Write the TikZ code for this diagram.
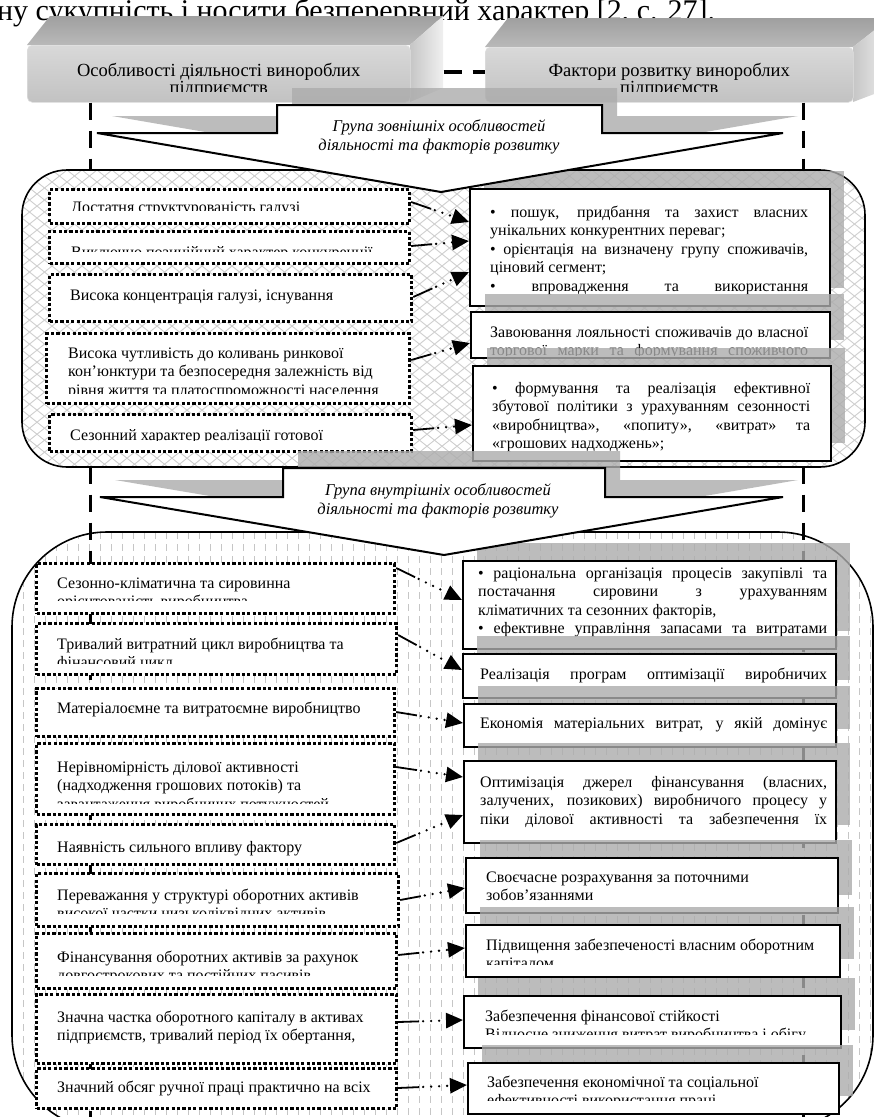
\documentclass[tikz,border=0pt]{standalone}
\usepackage{fontspec}
\setmainfont{Liberation Serif}
\usetikzlibrary{calc,arrows.meta}
\newcommand{\bfnt}{\fontsize{16}{18.5}\selectfont}
\newcommand{\hfnt}{\fontsize{18.5}{17.5}\selectfont}
\newcommand{\lineJ}[1]{\makebox[\linewidth][s]{#1}\par}
\newcommand{\lineL}[1]{\mbox{#1}\par}
\newcommand{\mkbox}[6]{\node[#2, minimum width={#5-#3}, minimum height={#6-#4}] (#1) at (#3,#4) {};}
\newcommand{\btext}[9]{\begin{scope}\clip (#2,#3) rectangle (#4,#5);
  \node[txt] (#1) at (#6,#7) {\parbox[t]{#8pt}{\setlength\parindent{0pt}\setlength\parskip{0pt}\bfnt #9}};\end{scope}}
\newcommand{\shad}[4]{\fill[shadowfill] (#1+15,#2-17) rectangle (#3+15,#4-17);}
\newcommand{\conn}[4]{%
  \path ($(#1.north east)+(0,#2)$) coordinate (cs) ($(#3.north west)+(0,#4)$) coordinate (ce);
  \draw[connsolid] (cs) -- ($(cs)!21pt!(ce)$);
  \draw[conndot] ($(cs)!21pt!(ce)$) -- (ce);}
\tikzset{
  txt/.style={inner sep=0pt, anchor=base west},
  lbox/.style={draw, line width=3.2pt, dash pattern=on 3.2pt off 2.2pt, fill=white, inner sep=0pt, anchor=north west},
  rbox/.style={draw, line width=1.6pt, fill=white, inner sep=0pt, anchor=north west},
  hfront/.style={rounded corners=5pt, top color=gray!30, bottom color=gray!48, draw=gray!25, line width=0.6pt, inner sep=0pt, anchor=north west},
  shadowfill/.style={fill=gray!65, opacity=0.8},
  connsolid/.style={line width=1.8pt},
  conndot/.style={line width=2.6pt, line cap=round, dash pattern=on 0pt off 8pt, dash phase=4pt, -{Triangle[length=17pt,width=15pt]}},
  vdash/.style={line width=3pt, dash pattern=on 17pt off 11pt},
  hdash/.style={line width=3.5pt, dash pattern=on 18pt off 11pt},
  hatch/.style={gray!38, line width=0.9pt},
  vhatch/.style={gray!45, line width=1pt, dash pattern=on 7pt off 5pt},
  arrowshape/.style={draw, line width=2pt, fill=white, line join=miter},
  atext/.style={inner sep=0pt, font=\fontsize{16.5}{19}\selectfont\itshape, align=center},
}
\begin{document}
\begin{tikzpicture}[x=1pt,y=-1pt]
\useasboundingbox (0,0) rectangle (874,1117);
\fill[white] (0,0) rectangle (874,1117);

% heading line of the page
\node[txt, font=\fontsize{30}{36}\selectfont] (head) at (-3,20) {ну сукупність і носити безперервний характер [2, с. 27].};

% ---- 3D header boxes
\shade[top color=gray!75, bottom color=gray!55] (27,45) -- (50,16) -- (443,16) -- (410,45) -- cycle;
\shade[left color=gray!45, right color=gray!12] (410,45) -- (443,16) -- (443,88) -- (410,102) -- cycle;
\node[hfront, minimum width=383, minimum height=57] (H1) at (27,45) {};
\begin{scope}\clip (27,45) rectangle (410,91);
\node[txt] (H1t) at (27,76) {\parbox[t]{383pt}{\centering\hfnt Особливості діяльності винороблих\\підприємств}};
\end{scope}

\shade[top color=gray!75, bottom color=gray!55] (485,47) -- (508,18) -- (890,18) -- (853,47) -- cycle;
\shade[left color=gray!45, right color=gray!12] (853,47) -- (890,18) -- (890,88) -- (853,102) -- cycle;
\node[hfront, minimum width=368, minimum height=55] (H2) at (485,47) {};
\begin{scope}\clip (485,47) rectangle (853,91);
\node[txt] (H2t) at (485,76) {\parbox[t]{368pt}{\centering\hfnt Фактори розвитку винороблих\\підприємств}};
\end{scope}

\draw[hdash] ($(H1.north east)+(33,27)$) -- ($(H2.north west)+(0,25)$);

% shadow of arrow 1
\fill[shadowfill, shift={(15,-17)}] (277,105) -- (602,105) -- (602,133) -- (783,133) -- (441,192) -- (97,133) -- (277,133) -- cycle;

% ---- lower rounded region background
\fill[white, rounded corners=95pt] (12,532) rectangle (873,1130);
\begin{scope}
\clip[rounded corners=95pt] (12,532) rectangle (873,1130);
\foreach \k in {0,...,78} {\draw[vhatch] (12+11*\k,532) -- (12+11*\k,1130);}
\end{scope}
\draw[line width=1.6pt, rounded corners=95pt] (12,532) rectangle (873,1130);

% vertical dashed guide lines
\coordinate (lend) at (90,1117);
\coordinate (rend) at (803,1117);
\draw[vdash] ($(H1.south west)+(63,0)$) -- (lend);
\draw[vdash] ($(H2.south west)+(318,0)$) -- (rend);

% ---- upper rounded region
\fill[white, rounded corners=45pt] (22,170) rectangle (865,467);
\begin{scope}
\clip[rounded corners=45pt] (22,170) rectangle (865,467);
\foreach \k in {-25,...,82} {\draw[hatch] (22+15*\k,170) -- ++(371,297); \draw[hatch] (22+15*\k,170) -- ++(-371,297);}
\end{scope}
\draw[line width=1.6pt, rounded corners=45pt] (22,170) rectangle (865,467);

% left items (upper)
\mkbox{L1}{lbox}{48}{188}{408}{222}
\btext{L1t}{48}{188}{408}{210}{71}{212}{335}{\lineL{Достатня структурованість галузі}}
\mkbox{L2}{lbox}{48}{230}{408}{262}
\btext{L2t}{48}{230}{408}{251}{71}{257}{335}{\lineL{Виключно позиційний характер конкуренції}}
\mkbox{L3}{lbox}{48}{273}{410}{320}
\btext{L3t}{48}{273}{410}{312}{70}{300}{335}{\lineL{Висока концентрація галузі, існування}}
\mkbox{L4}{lbox}{45}{332}{408}{402}
\btext{L4t}{45}{332}{408}{393}{68}{358}{335}{\lineL{Висока чутливість до коливань ринкової}\lineL{кон’юнктури та безпосередня залежність від}\lineL{рівня життя та платоспроможності населення}}
\mkbox{L5}{lbox}{48}{413}{410}{450}
\btext{L5t}{48}{413}{410}{440}{70}{440}{335}{\lineL{Сезонний характер реалізації готової}}

% right items (upper)
\shad{469}{188}{829}{305}
\mkbox{R1}{rbox}{469}{188}{829}{305}
\btext{R1t}{469}{188}{829}{305}{490}{217}{318}{\lineJ{• пошук, придбання та захист власних}\lineL{унікальних конкурентних переваг;}\lineJ{• орієнтація на визначену групу споживачів,}\lineL{ціновий сегмент;}\lineJ{• впровадження та використання}}
\shad{470}{311}{829}{357}
\mkbox{R2}{rbox}{470}{311}{829}{357}
\btext{R2t}{470}{311}{829}{355}{490}{337}{318}{\lineJ{Завоювання лояльності споживачів до власної}\lineJ{торгової марки та формування споживчого}}
\shad{472}{365}{830}{460}
\mkbox{R3}{rbox}{472}{365}{830}{460}
\btext{R3t}{472}{365}{830}{460}{492}{393}{318}{\lineJ{• формування та реалізація ефективної}\lineJ{збутової політики з урахуванням сезонності}\lineJ{«виробництва», «попиту», «витрат» та}\lineL{«грошових надходжень»;}}

\conn{L1}{14}{R1}{34}
\conn{L2}{16}{R1}{53}
\conn{L3}{24}{R1}{84}
\conn{L4}{28}{R2}{32}
\conn{L5}{17}{R3}{60}

% arrow 1
\draw[arrowshape] (277,105) -- (602,105) -- (602,133) -- (783,133) -- (441,192) -- (97,133) -- (277,133) -- cycle;
\node[atext] (g1) at (439,137) {Група зовнішніх особливостей\\діяльності та факторів розвитку};

% shadow of arrow 2
\fill[shadowfill, shift={(15,-17)}] (283,468) -- (605,468) -- (605,497) -- (783,497) -- (444,555) -- (100,497) -- (283,497) -- cycle;

% left items (lower)
\mkbox{M1}{lbox}{35}{562}{393}{612}
\btext{M1t}{35}{562}{393}{600}{57}{588}{335}{\lineL{Сезонно-кліматична та сировинна}\lineL{орієнтованість виробництва}}
\mkbox{M2}{lbox}{35}{622}{395}{673}
\btext{M2t}{35}{622}{395}{663}{57}{649}{335}{\lineL{Тривалий витратний цикл виробництва та}\lineL{фінансовий цикл}}
\mkbox{M3}{lbox}{35}{687}{393}{735}
\btext{M3t}{35}{687}{393}{735}{57}{713}{335}{\lineL{Матеріалоємне та витратоємне виробництво}}
\mkbox{M4}{lbox}{35}{742}{393}{813}
\btext{M4t}{35}{742}{393}{803}{57}{772}{335}{\lineL{Нерівномірність ділової активності}\lineL{(надходження грошових потоків) та}\lineL{завантаження виробничих потужностей}}
\mkbox{M5}{lbox}{35}{823}{393}{863}
\btext{M5t}{35}{823}{393}{858}{57}{852}{335}{\lineL{Наявність сильного впливу фактору}}
\mkbox{M6}{lbox}{35}{872}{397}{925}
\btext{M6t}{35}{872}{397}{913}{57}{900}{335}{\lineL{Переважання у структурі оборотних активів}\lineL{високої частки низьколіквідних активів}}
\mkbox{M7}{lbox}{35}{932}{395}{987}
\btext{M7t}{35}{932}{395}{975}{57}{962}{335}{\lineL{Фінансування оборотних активів за рахунок}\lineL{довгострокових та постійних пасивів}}
\mkbox{M8}{lbox}{35}{993}{395}{1062}
\btext{M8t}{35}{993}{395}{1046}{57}{1022}{335}{\lineL{Значна частка оборотного капіталу в активах}\lineL{підприємств, тривалий період їх обертання,}}
\mkbox{M9}{lbox}{35}{1067}{395}{1107}
\btext{M9t}{35}{1067}{395}{1097}{57}{1092}{335}{\lineL{Значний обсяг ручної праці практично на всіх}}

% right items (lower)
\shad{462}{560}{835}{648}
\mkbox{N1}{rbox}{462}{560}{835}{648}
\btext{N1t}{462}{560}{835}{648}{478}{578}{349}{\lineJ{• раціональна організація процесів закупівлі та}\lineJ{постачання сировини з урахуванням}\lineL{кліматичних та сезонних факторів,}\lineJ{• ефективне управління запасами та витратами}}
\shad{462}{653}{835}{697}
\mkbox{N2}{rbox}{462}{653}{835}{697}
\btext{N2t}{462}{653}{835}{686}{480}{679}{347}{\lineJ{Реалізація програм оптимізації виробничих}}
\shad{463}{703}{835}{746}
\mkbox{N3}{rbox}{463}{703}{835}{746}
\btext{N3t}{463}{703}{835}{736}{480}{728}{347}{\lineJ{Економія матеріальних витрат, у якій домінує}}
\shad{463}{760}{835}{842}
\mkbox{N4}{rbox}{463}{760}{835}{842}
\btext{N4t}{463}{760}{835}{830}{480}{787}{347}{\lineJ{Оптимізація джерел фінансування (власних,}\lineJ{залучених, позикових) виробничого процесу у}\lineJ{піки ділової активності та забезпечення їх}}
\shad{465}{857}{837}{912}
\mkbox{N5}{rbox}{465}{857}{837}{912}
\btext{N5t}{465}{857}{837}{912}{486}{882}{345}{\lineL{Своєчасне розрахування за поточними}\lineL{зобов’язаннями}}
\shad{465}{924}{839}{976}
\mkbox{N6}{rbox}{465}{924}{839}{976}
\btext{N6t}{465}{924}{839}{964}{486}{950}{345}{\lineL{Підвищення забезпеченості власним оборотним}\lineL{капіталом}}
\shad{463}{995}{840}{1047}
\mkbox{N7}{rbox}{463}{995}{840}{1047}
\btext{N7t}{463}{995}{840}{1034}{485}{1021}{345}{\lineL{Забезпечення фінансової стійкості}\lineL{Відносне зниження витрат виробництва і обігу}}
\shad{467}{1062}{838}{1113}
\mkbox{N8}{rbox}{467}{1062}{838}{1113}
\btext{N8t}{467}{1062}{838}{1100}{487}{1087}{345}{\lineL{Забезпечення економічної та соціальної}\lineL{ефективності використання праці}}

\conn{M1}{6}{N1}{40}
\conn{M2}{13}{N2}{17}
\conn{M3}{25}{N3}{20}
\conn{M4}{25}{N4}{17}
\conn{M5}{20}{N4}{55}
\conn{M6}{28}{N5}{31}
\conn{M7}{23}{N6}{24}
\conn{M8}{29}{N7}{25}
\conn{M9}{21}{N8}{23}

% arrow 2
\draw[arrowshape] (283,468) -- (605,468) -- (605,497) -- (783,497) -- (444,555) -- (100,497) -- (283,497) -- cycle;
\node[atext] (g2) at (438,501) {Група внутрішніх особливостей\\діяльності та факторів розвитку};
\end{tikzpicture}
\end{document}
